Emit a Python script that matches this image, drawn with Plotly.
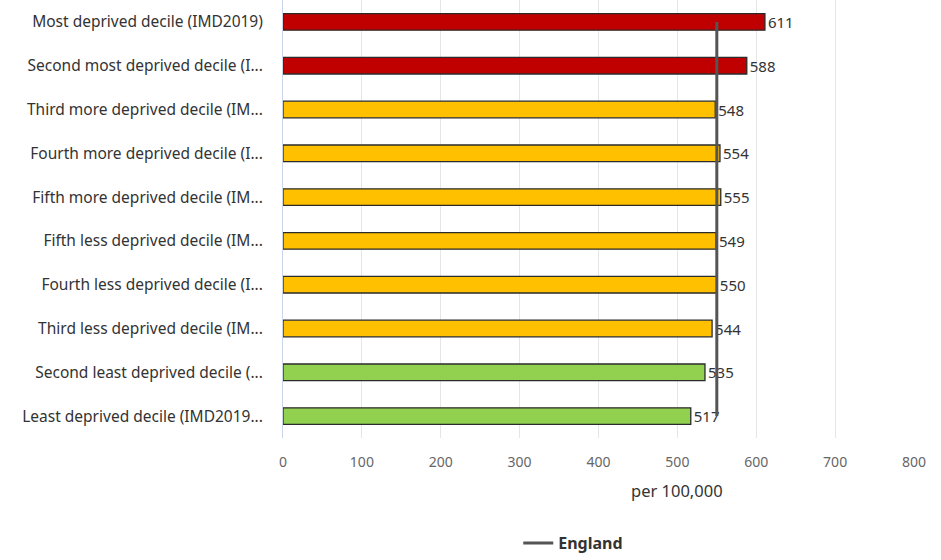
import plotly.graph_objects as go

categories = [
    "Most deprived decile (IMD2019)",
    "Second most deprived decile (I...",
    "Third more deprived decile (IM...",
    "Fourth more deprived decile (I...",
    "Fifth more deprived decile (IM...",
    "Fifth less deprived decile (IM...",
    "Fourth less deprived decile (I...",
    "Third less deprived decile (IM...",
    "Second least deprived decile (...",
    "Least deprived decile (IMD2019...",
]
values = [611, 588, 548, 554, 555, 549, 550, 544, 535, 517]
bar_colors = ["#C00000", "#C00000", "#FFC000", "#FFC000", "#FFC000",
              "#FFC000", "#FFC000", "#FFC000", "#92D050", "#92D050"]
england_value = 550
x_ticks = [0, 100, 200, 300, 400, 500, 600, 700, 800]

FONT = "Noto Sans"

fig = go.Figure()
fig.add_trace(go.Bar(
    y=categories, x=values, orientation="h",
    marker=dict(color=bar_colors, line=dict(color="#2b2b2b", width=1.3)),
    text=[str(v) for v in values], textposition="outside",
    constraintext="none",
    textfont=dict(family=FONT, size=15, color="#333333"),
    cliponaxis=False, showlegend=False, hoverinfo="x+y",
))
fig.add_trace(go.Scatter(
    y=[categories[0], categories[-1]], x=[england_value, england_value],
    mode="lines", name="England",
    line=dict(color="#555555", width=3),
))

fig.update_layout(
    width=941, height=560,
    margin=dict(l=283, r=27, t=0, b=121),
    plot_bgcolor="white", paper_bgcolor="white",
    bargap=0.62,
    font=dict(family=FONT, size=15, color="#333333"),
    xaxis=dict(
        range=[0, 800], tickvals=x_ticks,
        showgrid=True, gridcolor="#e6e6e6", gridwidth=1,
        zeroline=False, showline=False,
        tickfont=dict(family=FONT, size=14, color="#666666"),
        ticks="", ticklabelstandoff=14,
    ),
    yaxis=dict(
        categoryorder="array", categoryarray=categories,
        autorange="reversed",
        showgrid=False, zeroline=False,
        showline=True, linecolor="#ccd6eb", linewidth=1,
        tickfont=dict(family=FONT, size=15.5, color="#333333"),
        ticks="", ticklabelstandoff=16,
    ),
    legend=dict(
        orientation="h", x=0.46, xanchor="center", y=-0.2, yanchor="top",
        font=dict(family=FONT, size=16, color="#333333", weight="bold"),
    ),
    annotations=[dict(
        text="per 100,000", xref="paper", yref="paper",
        x=0.624, y=-0.12, xanchor="center", yanchor="middle",
        showarrow=False, font=dict(family=FONT, size=16.5, color="#333333"),
    )],
)

fig.write_html("out.html", config={"displayModeBar": False},
               post_script="document.body.style.margin='0';")
